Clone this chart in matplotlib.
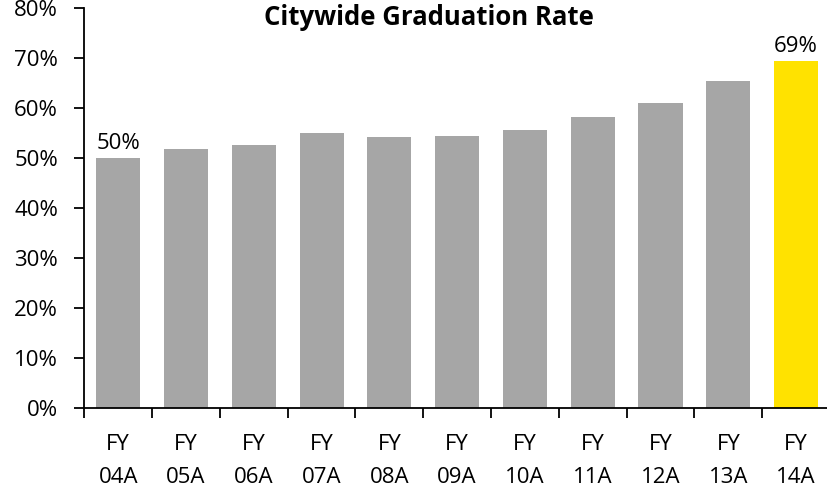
import matplotlib
matplotlib.use("Agg")
import matplotlib.pyplot as plt
import numpy as np

categories = ["FY\n04A", "FY\n05A", "FY\n06A", "FY\n07A", "FY\n08A", "FY\n09A",
              "FY\n10A", "FY\n11A", "FY\n12A", "FY\n13A", "FY\n14A"]
values = [50.0, 51.9, 52.6, 55.0, 54.2, 54.4, 55.7, 58.3, 61.1, 65.4, 69.4]
bar_colors = ["#A6A6A6"] * 10 + ["#FFE200"]
labelled = {0: "50%", 10: "69%"}
yticks = [0, 10, 20, 30, 40, 50, 60, 70, 80]

plt.rcParams['font.family'] = ['Open Sans', 'DejaVu Sans']

fig = plt.figure(figsize=(8.27, 4.98), dpi=100)
ax = fig.add_axes([0.102, 0.1807, 0.9016, 0.803])

x = np.arange(len(categories))
ax.bar(x, values, width=0.65, color=bar_colors, edgecolor="none", zorder=2)
ax.set_xlim(-0.5, len(categories) - 0.5)
ax.set_ylim(0, 80)

for i, txt in labelled.items():
    ax.text(x[i], values[i] + 0.9, txt, ha="center", va="bottom", fontsize=16, color="#000000")

ax.set_yticks(yticks)
ax.set_yticklabels([f"{t}%" for t in yticks], fontsize=16)
ax.set_xticks(x)
ax.set_xticklabels(categories, fontsize=16, linespacing=1.72)
ax.set_xticks(np.arange(-0.5, len(categories) - 0.5, 1.0), minor=True)
ax.tick_params(axis="x", which="major", length=0, pad=19)
ax.tick_params(axis="x", which="minor", length=7, width=1.3, direction="out")
ax.tick_params(axis="y", length=7, width=1.3, direction="out", pad=12)

for s in ["top", "right"]:
    ax.spines[s].set_visible(False)
for s in ["left", "bottom"]:
    ax.spines[s].set_linewidth(1.3)
    ax.spines[s].set_color("#000000")

fig.text(429 / 827, 1 - 25 / 498, "Citywide Graduation Rate", ha="center", va="baseline",
         fontsize=18.5, fontweight="bold")

fig.savefig("out.png", dpi=100)
